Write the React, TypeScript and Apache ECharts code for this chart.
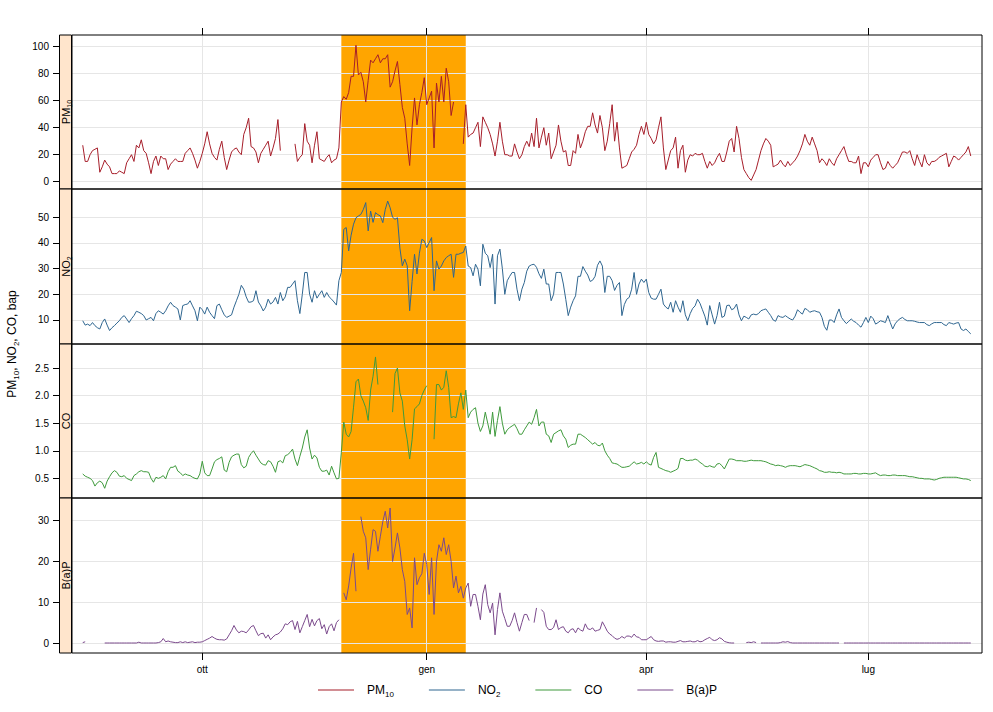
import React, { useEffect, useRef } from "react";
import * as echarts from "echarts";

// ---------------- DATA ----------------
// daily values from 2010-08-13 (index 0) to 2011-08-12 (index 364)
const startDate = [2010, 7, 13];

const pm10 = [
  27, 15, 15, 20, 23, 24, 25, 7, 11, 16,
  13, 11, 6, 6, 6, 8, 7, 6, 14, 17,
  20, 15, 27, 25, 31, 23, 21, 14, 6, 15,
  19, 12, 19, 17, 17, 9, 13, 15, 17, 15,
  15, 15, 21, 23, 25, 21, 16, 10, 15, 21,
  28, 37, 28, 21, 18, 16, 24, 30, 18, 9,
  16, 22, 24, 25, 22, 20, 35, 40, 47, 26,
  25, 22, 14, 21, 24, 27, 30, 19, 25, 32,
  46, 23, null, null, null, null, null, 28, 15, 18,
  20, 43, 30, 27, 14, 27, 37, 17, 16, 15,
  18, 20, 14, 16, 17, 25, 59, 63, 61, 66,
  78, 78, 101, 79, 81, 74, 59, 75, 90, 88,
  91, 94, 88, 91, 91, 94, 70, 74, 82, 89,
  72, 55, 47, 28, 12, 40, 62, 42, 57, 66,
  77, 57, 62, 67, 25, 73, 59, 78, 59, 84,
  74, 49, 59, null, null, null, 28, 57, 33, 35,
  36, 40, 44, 26, 48, 44, 40, 35, 28, 19,
  30, 44, 30, 20, 20, 19, 19, 28, 22, 17,
  20, 26, 30, 26, 36, 26, 47, 25, 33, 40,
  27, 36, 17, 22, 27, 42, 30, 22, 23, 12,
  12, 23, 21, 35, 25, 30, 37, 41, 41, 51,
  42, 36, 49, 40, 23, 30, 43, 57, 30, 44,
  25, 10, 11, 12, 17, 22, 24, 27, 35, 41,
  35, 44, 35, 32, 28, 31, 40, 48, 25, 9,
  16, 23, 25, 33, 10, 23, 27, 7, 16, 20,
  19, 21, 20, 20, 21, 15, 10, 15, 12, 14,
  18, 21, 15, 15, 22, 30, 32, 22, 41, 32,
  18, 9, 6, 3, 1, 5, 9, 16, 23, 28,
  32, 30, 27, 11, 12, 13, 16, 13, 11, 15,
  12, 14, 16, 19, 23, 28, 35, 30, 27, 33,
  28, 23, 14, 17, 15, 12, 17, 14, 12, 17,
  20, 23, 26, 20, 15, 15, 14, 14, 19, 6,
  14, 14, 11, 16, 18, 20, 20, 14, 9, 10,
  15, 12, 10, 12, 14, 18, 22, 22, 21, 23,
  17, 12, 20, 15, 11, 20, 14, 12, 15, 15,
  16, 18, 19, 20, 21, 11, 15, 19, 18, 16,
  18, 20, 22, 26, 19,
];

const no2 = [
  9.7, 8, 8.4, 7.8, 9, 7.8, 7, 6.5, 9, 10.4,
  8, 5.9, 7, 7.8, 8.8, 9.7, 11, 11.7, 10.4, 9,
  10.5, 11.7, 13.4, 13, 12.5, 11.7, 10, 10.5, 11, 9.7,
  12.5, 13.6, 13, 12.3, 13.6, 15.5, 16.9, 15.6, 15, 14.3,
  10, 15.6, 16, 16.2, 17.5, 15.5, 13.6, 9.7, 15, 14,
  12.3, 15, 13, 11.7, 10.5, 15.6, 16.2, 14, 12, 11,
  11.5, 12, 15, 17.5, 20, 23.5, 22, 19, 16.9, 17,
  17.5, 21.4, 17, 15.5, 13.5, 15, 18.1, 16.2, 17, 18.8,
  16.2, 20.7, 17.5, 19, 22.7, 22.7, 24, 25.3, 17.5, 12.5,
  20, 28.5, 28.5, 20, 16.9, 21.4, 18.5, 20, 21.4, 18.8,
  20.7, 19, 18.1, 17, 15.8, 25.3, 28.5, 45.3, 46, 36.9,
  43, 47.3, 49.8, 50.5, 51.1, 53, 55.7, 44.7, 52.4, 48,
  51.8, 51, 50.5, 47.9, 53, 56.3, 53.7, 50, 49.2, 49.8,
  38, 31.1, 33.7, 31.1, 13.6, 25, 35.6, 27.9, 36, 41.4,
  40.8, 38.2, 40.1, 42.1, 21.4, 33, 29.8, 31, 33, 34.3,
  35, 35.6, 26.6, 35.6, 35.6, 36, 36.3, 38.8, 31, 30.4,
  27.2, 31.7, 29.8, 23.3, 39.5, 36, 35, 30.4, 35.6, 16.2,
  35, 37.6, 30, 20, 25.3, 27, 28.5, 28.5, 22, 17.5,
  22, 24.6, 29, 31, 31.5, 31.7, 30.5, 28, 26.2, 29.8,
  24, 24, 17.5, 20, 28.5, 28.5, 28.5, 24, 18, 11.7,
  15, 17.5, 19.4, 27, 27, 30.8, 29, 27.5, 25, 25.5,
  27, 31.3, 33, 31, 20.7, 27, 27, 25.3, 21.5, 23.5,
  24.6, 11.7, 16, 18.1, 18.8, 22, 28.5, 20, 24, 25.9,
  24.6, 25.9, 20.7, 18.5, 18.1, 18.1, 20, 22, 16.2, 15,
  14.3, 16.9, 13, 17.5, 15, 13, 17.5, 12, 9.7, 12.5,
  14.5, 15.5, 18.1, 16.5, 14, 11.5, 8, 15.6, 12, 8.4,
  11.7, 16.9, 11, 11.5, 15.6, 15.8, 14, 14.5, 16.2, 12,
  9.7, 11.5, 11, 10.4, 12, 12.3, 12, 12.5, 13.6, 14,
  14.3, 13, 11.7, 10, 9.5, 11.7, 11.2, 11, 11.7, 11,
  10.4, 10, 11.5, 14, 13, 12.3, 14.5, 14, 13, 13.4,
  13.6, 13.2, 13, 11, 7.5, 6, 10, 10, 9, 12,
  14.3, 11, 9.7, 8.6, 9.5, 10.4, 9.5, 9, 8, 7.2,
  9, 11, 9, 11.5, 10.5, 8.4, 9, 9.7, 9.4, 9,
  11.7, 9, 6.5, 8.5, 9.7, 10.5, 11, 10.2, 9.7, 9.7,
  9.7, 9.5, 9.2, 9, 9, 9, 8.2, 7.8, 8.5, 9,
  9, 9, 9, 8.2, 7.8, 9, 8.7, 8.4, 8.8, 9,
  6.5, 5.9, 6.5, 5.5, 4.6,
];

const co = [
  0.58, 0.54, 0.52, 0.5, 0.46, 0.36, 0.42, 0.45, 0.42, 0.32,
  0.45, 0.53, 0.6, 0.64, 0.61, 0.54, 0.53, 0.55, 0.5, 0.48,
  0.46, 0.55, 0.58, 0.62, 0.64, 0.62, 0.62, 0.61, 0.5, 0.43,
  0.52, 0.5, 0.52, 0.55, 0.49, 0.62, 0.7, 0.7, 0.73, 0.63,
  0.6, 0.55, 0.58, 0.56, 0.55, 0.52, 0.5, 0.49, 0.58, 0.81,
  0.6, 0.55, 0.55, 0.67, 0.8, 0.84, 0.86, 0.89, 0.65, 0.62,
  0.79, 0.89, 0.92, 0.94, 0.94, 0.75, 0.69, 0.72, 0.88, 0.95,
  1.0, 0.92, 0.85, 0.78, 0.75, 0.74, 0.82, 0.8, 0.72, 0.61,
  0.8, 0.82, 0.78, 0.91, 0.93, 0.97, 1.03, 0.85, 0.73, 0.9,
  1.05, 1.25, 1.38, 1.05, 0.85, 0.92, 0.87, 0.7, 0.63, 0.63,
  0.65, 0.56, 0.72, 0.6, 0.49, 0.5, 0.97, 1.52, 1.3, 1.25,
  1.35, 1.79, 2.25, 2.3, 2.0, 1.9, 1.78, 1.55, 2.1, 2.35,
  2.7, 2.2, null, null, null, null, null, 1.7, 2.4, 2.5,
  2.05, 1.9, 1.45, 1.2, 0.85, 1.2, 1.76, 1.8, 1.85, 2.0,
  2.1, 2.18, null, null, 1.21, 2.2, 2.2, 2.1, 2.15, 2.45,
  2.15, 1.6, 1.62, 1.6, 1.85, 2.05, 1.75, 2.1, 1.6, 1.7,
  1.75, 1.78, 1.5, 1.35, 1.45, 1.7, 1.5, 1.3, 1.7, 1.26,
  1.55, 1.8, 1.5, 1.3, 1.38, 1.42, 1.45, 1.48, 1.4, 1.3,
  1.3, 1.38, 1.45, 1.52, 1.48, 1.6, 1.75, 1.45, 1.52, 1.52,
  1.3, 1.27, 1.15, 1.3, 1.33, 1.36, 1.38, 1.27, 1.21, 1.06,
  1.1, 1.12, 1.12, 1.3, 1.3, 1.27, 1.24, 1.2, 1.16, 1.12,
  1.15, 1.1, 1.09, 1.14, 1.0, 0.92, 0.86, 0.78, 0.77, 0.76,
  0.73, 0.7, 0.7, 0.71, 0.72, 0.76, 0.8, 0.76, 0.77, 0.79,
  0.76, 0.8, 0.76, 0.74, 0.88, 0.97, 0.7, 0.68, 0.66, 0.64,
  0.63, 0.61, 0.63, 0.65, 0.68, 0.86, 0.86, 0.83, 0.82, 0.83,
  0.83, 0.85, 0.83, 0.79, 0.76, 0.72, 0.71, 0.73, 0.71, 0.7,
  0.76, 0.77, 0.73, 0.67, 0.76, 0.85, 0.85, 0.84, 0.82, 0.82,
  0.82, 0.81, 0.81, 0.82, 0.83, 0.82, 0.82, 0.82, 0.82, 0.81,
  0.8, 0.78, 0.76, 0.75, 0.73, 0.74, 0.73, 0.72, 0.7, 0.72,
  0.73, 0.73, 0.73, 0.72, 0.71, 0.73, 0.75, 0.74, 0.73, 0.71,
  0.69, 0.67, 0.64, 0.63, 0.61, 0.61, 0.62, 0.61, 0.61, 0.6,
  0.61, 0.6, 0.58, 0.58, 0.58, 0.58, 0.59, 0.59, 0.58, 0.58,
  0.59, 0.59, 0.58, 0.58, 0.59, 0.6, 0.57, 0.55, 0.56, 0.56,
  0.55, 0.55, 0.56, 0.56, 0.55, 0.55, 0.55, 0.55, 0.54, 0.53,
  0.53, 0.52, 0.51, 0.5, 0.5, 0.49, 0.49, 0.49, 0.48, 0.47,
  0.48, 0.5, 0.51, 0.52, 0.52, 0.52, 0.52, 0.52, 0.52, 0.51,
  0.5, 0.49, 0.49, 0.48, 0.46,
];

const bap = [
  0.1, 0.3, null, null, null, null, null, null, null, 0,
  0, 0, 0, 0, 0, 0, 0, 0, 0, 0,
  0, 0, 0, 0.2, 0, 0, 0, 0, 0, 0,
  0, 0.1, 0.3, 1.1, 0.3, 0.5, 0.3, 0.2, 0.1, 0.1,
  0.3, 0.1, 0.3, 0.1, 0.2, 0.3, 0.1, 0.2, 0.2, 0.3,
  0.6, 0.9, 1.2, 1.6, 1.2, 0.9, 0.8, 0.8, 0.7, 1.0,
  2.0, 3.0, 4.3, 3.2, 2.5, 2.9, 2.8, 2.5, 3.2, 4.0,
  4.3, 3.0, 1.8, 2.3, 2.4, 1.2, 2.0, 0.8, 1.5, 2.0,
  2.2, 2.7, 3.5, 4.7, 4.5, 5.2, 5.5, 3.3, 5.3, 2.5,
  4.0, 5.5, 7.0, 4.0, 5.8, 4.2, 5.5, 6.0, 3.5, 4.5,
  2.2, 4.0, 4.7, 3.0, 5.0, 5.7, null, 12.3, 10.6, 14,
  18.4, 22, 12.7, null, 31, 27.4, 25.8, 18, 23, 27.8,
  27.4, 22.5, 26.2, 29.8, 32.3, 28.2, 33.1, 20, 23.3, 27,
  23.3, 18, 15.1, 7, 8.6, 3.7, 20.9, 14.3, 16, 17,
  22, 19.2, 11.9, 20.9, 7, 20, 24.1, 22.5, 25.8, 21.7,
  24.1, 20, 13.5, 16.4, 12.3, 13.9, 11, 13.5, 14.7, 9,
  11.9, 11.9, 9, 5.7, 12, 14.3, 9.4, 7.4, 9.8, 2,
  8.2, 12.3, 7.8, 6, 4.1, 4.1, 5.5, 7.4, 5, 2.9,
  5, 7, 7, 5.5, null, 5, 8.6, null, 8.2, 7.5,
  4.1, 3.3, 3.3, 3.8, 5.7, 3.3, 3.8, 4, 2.9, 2.5,
  3.3, 3.5, 2.5, 3.7, 3.2, 2.9, 4.7, 3.5, 3.3, 3.7,
  2.9, 3.1, 3.3, 5.2, 4.1, 2.9, 2.2, 1.8, 1.2, 0.9,
  1.1, 1.6, 1.2, 1.7, 1.7, 1.4, 2.2, 1.5, 1.4, 0.8,
  0.8, 0.8, 1.2, 1.6, 0.8, 0.5, 0.4, 0.5, 0.5, 0.2,
  0.3, 0.3, 0.2, 0.2, 0.4, 0.6, 0.3, 0.3, 0.4, 0.5,
  0.3, 0.3, 0.6, 0.3, 0.4, 0.8, 1.1, 1.4, 0.8, 0.6,
  0.8, 1.3, 1.0, 0.4, 0.2, 0.05, 0, 0, null, null,
  null, null, 0.1, 0.2, 0.1, 0.3, 0.1, null, 0, 0,
  0, 0, 0, 0, 0, 0, 0.1, 0.3, 0.2, 0.35,
  0.1, 0, 0, 0, 0, 0, 0, 0, 0, 0,
  0, 0, 0, 0, 0, 0, 0, 0, 0, 0,
  0, null, 0, 0, 0, 0, 0, 0, 0, 0,
  0, 0, 0, 0, 0, 0, 0, 0, 0, 0,
  0, 0, 0, 0, 0, 0, 0, 0, 0, 0,
  0, 0, 0, 0, 0, 0, 0, 0, 0, 0,
  0, 0, 0, 0, 0, 0, 0, 0, 0, 0,
  0, 0, 0, 0, 0,
];

const seriesNames = ["PM10", "NO2", "CO", "B(a)P"];
const monthTickDates = ["2010-10-01", "2011-01-01", "2011-04-01", "2011-07-01"];
const monthTickLabels = ["ott", "gen", "apr", "lug"];
const highlightStart = "2010-11-27";
const highlightEnd = "2011-01-17";

const pm10Ticks = [0, 20, 40, 60, 80, 100];
const no2Ticks = [10, 20, 30, 40, 50];
const coTicks = [0.5, 1.0, 1.5, 2.0, 2.5];
const bapTicks = [0, 10, 20, 30];

// ---------------- STYLE / LAYOUT ----------------
const FONT = "'Liberation Sans', Arial, Helvetica, sans-serif";
const COLORS = ["#A61E2A", "#2F6690", "#3F9A3C", "#7B4A8C"];
const BAND = "#FFA500";
const GRIDLINE = "#E6E6E6";
const STRIP = "#FFE5CC";
const PANEL_TOPS = [35, 189, 344, 498];
const PANEL_HEIGHTS = [154, 155, 154, 155];
const Y_RANGES = [
  [-5.4, 108.6],
  [0.65, 61.0],
  [0.144, 2.935],
  [-2.45, 35.56],
];

const DAY = 86400000;
function ts(s: string) {
  const p = s.split("-").map(Number);
  return new Date(p[0], p[1] - 1, p[2]).getTime();
}
const START_TS = new Date(startDate[0], startDate[1], startDate[2]).getTime();
const X_MIN = START_TS - 4.4 * DAY;
const X_MAX = START_TS + 368.6 * DAY;

const richMain = {
  a: { fontSize: 12, lineHeight: 16, fontFamily: FONT, color: "#000" },
  s: { fontSize: 8, lineHeight: 8, verticalAlign: "bottom", fontFamily: FONT, color: "#000" },
};
const richStrip = {
  a: { fontSize: 11, lineHeight: 14, fontFamily: FONT, color: "#000" },
  s: { fontSize: 7, lineHeight: 7, verticalAlign: "bottom", fontFamily: FONT, color: "#000" },
};
const richLabel: Record<string, string> = {
  PM10: "{a|PM}{s|10}",
  NO2: "{a|NO}{s|2}",
  CO: "{a|CO}",
  "B(a)P": "{a|B(a)P}",
};

export default function App() {
  const ref = useRef<HTMLDivElement>(null);

  useEffect(() => {
    if (!ref.current) return;
    const chart = echarts.init(ref.current, null, { renderer: "svg" });

    const allData = [pm10, no2, co, bap];
    const allTicks = [pm10Ticks, no2Ticks, coTicks, bapTicks];
    const tickTs = monthTickDates.map(ts);
    const monthLabel = (v: number) => {
      for (let k = 0; k < tickTs.length; k++) {
        if (Math.abs(tickTs[k] - v) < DAY / 2) return monthTickLabels[k];
      }
      return "";
    };

    const grid = PANEL_TOPS.map((t, i) => ({
      left: 72,
      right: 11,
      top: t,
      height: PANEL_HEIGHTS[i],
      show: true,
      borderColor: "#000",
      borderWidth: 1,
      backgroundColor: "transparent",
      z: 5,
    }));

    const xAxis = PANEL_TOPS.map((_, i) => ({
      type: "value",
      gridIndex: i,
      min: X_MIN,
      max: X_MAX,
      position: i === 0 ? "top" : "bottom",
      z: 3,
      axisLine: { show: false, onZero: false },
      axisTick: {
        show: i === 0 || i === 3,
        inside: false,
        length: 7,
        customValues: tickTs,
        lineStyle: { color: "#000", width: 1 },
      },
      axisLabel: {
        show: i === 3,
        customValues: tickTs,
        formatter: (v: number) => monthLabel(v),
        fontSize: 10,
        fontFamily: FONT,
        color: "#000",
        margin: 11,
      },
      splitLine: { show: true, lineStyle: { color: GRIDLINE, width: 1 } },
    }));

    const yAxis = PANEL_TOPS.map((_, i) => ({
      type: "value",
      gridIndex: i,
      min: Y_RANGES[i][0],
      max: Y_RANGES[i][1],
      position: "left",
      offset: 12,
      z: 3,
      axisLine: { show: false, onZero: false },
      axisTick: {
        show: true,
        length: 7,
        customValues: allTicks[i],
        lineStyle: { color: "#000", width: 1 },
      },
      axisLabel: {
        customValues: allTicks[i],
        fontSize: 10,
        fontFamily: FONT,
        color: "#000",
        margin: 11,
        formatter: (v: number) => (i === 2 ? v.toFixed(1) : String(Math.round(v))),
      },
      splitLine: { show: true, lineStyle: { color: GRIDLINE, width: 1 } },
    }));

    const bandStart = ts(highlightStart);
    const bandEnd = ts(highlightEnd);

    const series: any[] = [];
    PANEL_TOPS.forEach((_, i) => {
      series.push({
        type: "custom",
        name: "band" + i,
        xAxisIndex: i,
        yAxisIndex: i,
        z: 1,
        silent: true,
        data: [[bandStart, bandEnd]],
        encode: { x: [0, 1] },
        renderItem: (params: any, api: any) => {
          const x0 = api.coord([api.value(0), Y_RANGES[i][0]])[0];
          const x1 = api.coord([api.value(1), Y_RANGES[i][0]])[0];
          const cs = params.coordSys;
          return {
            type: "rect",
            shape: { x: x0, y: cs.y, width: x1 - x0, height: cs.height },
            style: { fill: BAND },
          };
        },
      });
    });
    PANEL_TOPS.forEach((_, i) => {
      series.push({
        type: "line",
        name: seriesNames[i],
        xAxisIndex: i,
        yAxisIndex: i,
        z: 4,
        symbol: "none",
        showSymbol: false,
        connectNulls: false,
        data: allData[i].map((v, k) => [START_TS + k * DAY, v]),
        lineStyle: { color: COLORS[i], width: 1 },
        itemStyle: { color: COLORS[i] },
      });
    });

    const graphic: any[] = [];
    PANEL_TOPS.forEach((t, i) => {
      graphic.push({
        type: "rect",
        shape: { x: 59.5, y: t, width: 12, height: PANEL_HEIGHTS[i] },
        style: { fill: STRIP, stroke: "#000", lineWidth: 1 },
        z: 10,
      });
      graphic.push({
        type: "text",
        x: 66,
        y: t + PANEL_HEIGHTS[i] / 2,
        rotation: Math.PI / 2,
        z: 11,
        style: {
          text: richLabel[seriesNames[i]],
          rich: richStrip,
          align: "center",
          verticalAlign: "middle",
        },
      });
    });
    graphic.push({
      type: "text",
      x: 12,
      y: 344,
      rotation: Math.PI / 2,
      style: {
        text: "{a|PM}{s|10}{a|, NO}{s|2}{a|, CO, bap}",
        rich: richMain,
        align: "center",
        verticalAlign: "middle",
      },
    });

    chart.setOption({
      animation: false,
      backgroundColor: "#fff",
      grid,
      xAxis,
      yAxis,
      series,
      graphic,
      legend: {
        data: seriesNames,
        left: 318,
        top: 684,
        padding: 0,
        icon: "rect",
        itemWidth: 36,
        itemHeight: 1,
        itemGap: 35,
        selectedMode: false,
        formatter: (name: string) => richLabel[name],
        textStyle: {
          fontSize: 12,
          fontFamily: FONT,
          color: "#000",
          padding: [0, 0, 0, 8],
          rich: richMain,
        },
      },
    });

    return () => chart.dispose();
  }, []);

  return (
    <div
      ref={ref}
      style={{ position: "fixed", left: 0, top: 0, width: 993, height: 712 }}
    />
  );
}
